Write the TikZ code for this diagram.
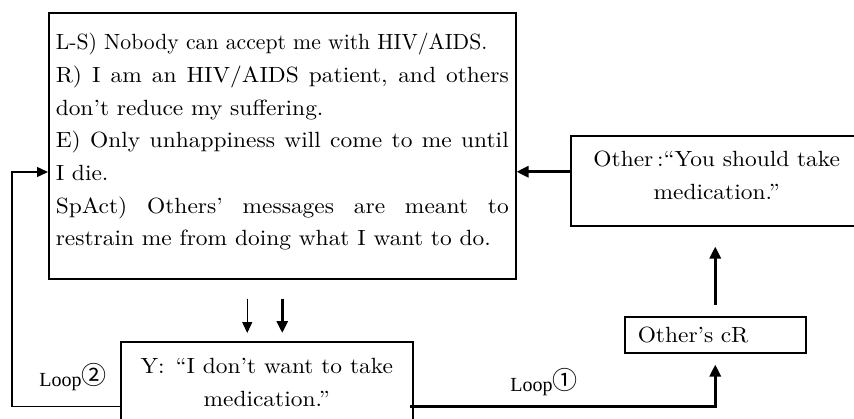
\documentclass[tikz,border=0pt]{standalone}
\usepackage{fontspec}
\usepackage{graphicx}
\newfontfamily\cjk{Noto Sans CJK JP}
\newfontfamily\loopfont{Liberation Serif}
\newfontfamily\mainf{lmroman10-regular.otf}[FakeStretch=1.065,Ligatures=TeX]
\usetikzlibrary{arrows.meta}
\begin{document}
\begin{tikzpicture}[x=1pt,y=-1pt,
  box/.style={draw, line width=1.5pt, inner sep=0pt},
  mainfnt/.style={font=\mainf\fontsize{22}{32.7}\selectfont},
  thinarr/.style={line width=1.4pt, -{Triangle[length=11pt,width=10pt]}},
  thickarr/.style={line width=3.2pt, -{Triangle[length=12pt,width=11pt]}},
  looplab/.style={font=\loopfont\fontsize{20}{22}\selectfont, inner sep=0pt}]
\useasboundingbox (0,0) rectangle (854,418);
\clip (0,0) rectangle (854,418);
\node[box, mainfnt, anchor=north west, minimum width=467pt, minimum height=266pt,
      text width=453pt, align=justify] (M) at (48,12)
 {\parindent=0pt\emergencystretch=3em
  \scalebox{0.925}[1]{L-S) Nobody can accept me with HIV/AIDS.}\par
  R) I am an HIV/AIDS patient, and others\linebreak don't reduce my suffering.\par
  E) Only unhappiness will come to me until\linebreak I die.\par
  SpAct) Others' messages are meant to\linebreak restrain me from doing what I want to do.\par
  \vskip8pt\hrule height0pt width0pt};
\node[box, mainfnt, anchor=north west, minimum width=292pt, minimum height=90pt,
      align=center] (O) at (570,135) {Other\,:“You should take\\medication.”\\[-22pt]\mbox{}};
\node[box, mainfnt, anchor=north west, minimum width=292pt, minimum height=82pt,
      align=center] (Y) at (120,341) {Y:\enspace“I don't want to take\\medication.”};
\node[box, mainfnt, anchor=north west, minimum width=181pt, minimum height=36pt,
      text width=155pt, align=left] (C) at (624,316) {Other's cR};
% arrows
\coordinate (oa) at ([yshift=9pt]O.west);
\draw[thickarr] (oa) -- (oa -| M.east);
\draw[thickarr, shorten <=11pt, shorten >=20pt] (C.north) -- (O.south -| C.north);
\draw[thinarr, shorten <=19pt, shorten >=8pt] ([xshift=-35pt]M.south) -- ([xshift=-35pt]M.south |- Y.north);
\draw[thickarr, shorten <=19pt, shorten >=8pt] (M.south) -- (M.south |- Y.north);
\coordinate (y1) at ([yshift=-24pt]Y.east);
\draw[thickarr, shorten >=11pt] ([xshift=-4pt]y1) -| (C.south);
\coordinate (y2) at ([yshift=-24pt]Y.west);
\coordinate (L2) at (12,172);
\draw[thinarr] (y2) -| (L2) -- (L2 -| M.west);
\node[looplab] (lab2) at (73,377) {Loop{\cjk\raisebox{2pt}{\fontsize{25}{25}\selectfont ②}}};
\node[looplab] (lab1) at (544,382) {Loop{\cjk\raisebox{2pt}{\fontsize{25}{25}\selectfont ①}}};
\end{tikzpicture}
\end{document}
